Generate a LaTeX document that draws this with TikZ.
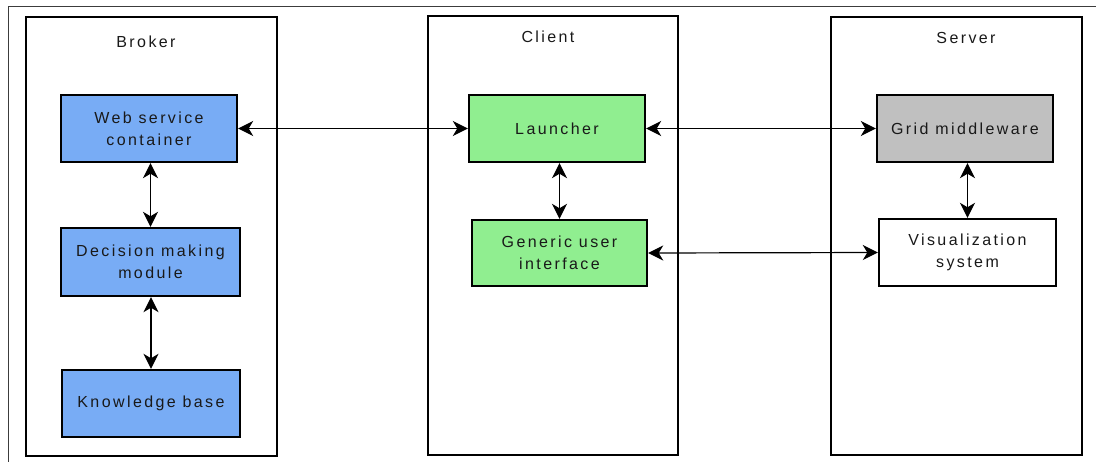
\documentclass[tikz,border=0pt]{standalone}
\usepackage{fontspec}
\setmainfont{Liberation Sans}
\newfontfamily\lblfont[LetterSpace=15]{Liberation Sans}
\usetikzlibrary{arrows.meta}
\definecolor{brokerblue}{RGB}{120,172,245}
\definecolor{clientgreen}{RGB}{144,238,144}
\definecolor{servergray}{RGB}{192,192,192}
\definecolor{framegray}{RGB}{60,60,60}

\begin{document}
\begin{tikzpicture}[x=1pt,y=-1pt,
  frame/.style={draw=framegray,line width=1pt},
  group/.style={draw=black,line width=2.4pt,fill=white,rectangle,inner sep=0pt},
  title/.style={font=\lblfont\fontsize{16}{20}\selectfont,text=black!90},
  box/.style={draw=black,line width=2.4pt,rectangle,inner sep=0pt,align=center,
    font=\lblfont\fontsize{16}{22}\selectfont,text=black!90},
  link/.style={draw=black,line width=1.2pt,
    {Stealth[length=15pt,width=15pt,inset=4.5pt]}-{Stealth[length=15pt,width=15pt,inset=4.5pt]}}]
\useasboundingbox (0,0) rectangle (1096,461);

% outer frame, running past the page edge
\draw[frame] (8,520) -- (8,6) -- (1160,6);

% three tiers
\node[group,minimum width=251pt,minimum height=439pt] (broker) at (151.5,236.5) {};
\node[group,minimum width=250pt,minimum height=439pt] (client) at (553,235.5) {};
\node[group,minimum width=251pt,minimum height=438pt] (server) at (956.5,236) {};

\node[title] (brokerlbl) at (146,42) {Broker};
\node[title] (clientlbl) at (548,37) {Client};
\node[title] (serverlbl) at (966,38) {Server};

% broker components
\node[box,fill=brokerblue,minimum width=176pt,minimum height=67pt] (ws) at (149,128.5) {Web service\\container};
\node[box,fill=brokerblue,minimum width=179pt,minimum height=68pt] (dm) at (150.5,262) {Decision making\\module};
\node[box,fill=brokerblue,minimum width=178pt,minimum height=67pt] (kb) at (151,403.5) {Knowledge base};

% client components
\node[box,fill=clientgreen,minimum width=176pt,minimum height=67pt] (la) at (557,128.5) {Launcher};
\node[box,fill=clientgreen,minimum width=175pt,minimum height=66pt] (gui) at (559.5,253) {Generic user\\interface};

% server components
\node[box,fill=servergray,minimum width=176pt,minimum height=67pt] (gm) at (965,128.5) {Grid middleware};
\node[box,fill=white,minimum width=177pt,minimum height=67pt] (vis) at (967.5,252.5) {Visualization\\system};

% connectors
\draw[link] (ws.east) -- (la.west);
\draw[link] (la.east) -- (gm.west);
\draw[link] (gui.east) -- (vis.west);
\draw[link] (dm.north |- ws.south) -- (dm.north);
\draw[link] (dm.south -| kb.north) -- (kb.north);
\draw[link] (gui.north |- la.south) -- (gui.north);
\draw[link] (vis.north |- gm.south) -- (vis.north);
\end{tikzpicture}
\end{document}
